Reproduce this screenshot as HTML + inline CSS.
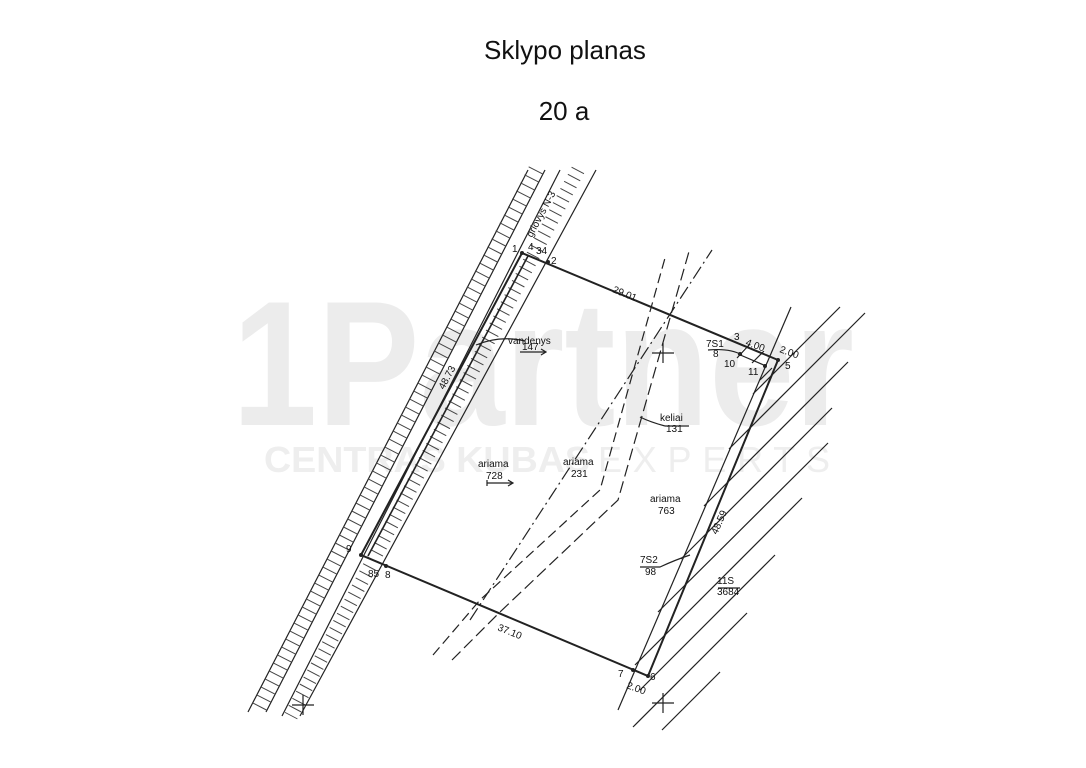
<!DOCTYPE html>
<html><head><meta charset="utf-8"><style>
html,body{margin:0;padding:0;background:#fff;width:1086px;height:768px;overflow:hidden}
svg{display:block}
</style></head><body>
<svg width="1086" height="768" viewBox="0 0 1086 768" xmlns="http://www.w3.org/2000/svg" font-family="Liberation Sans, sans-serif">
<rect width="1086" height="768" fill="#fff"/>
<text x="565" y="59" font-size="26" text-anchor="middle" fill="#111">Sklypo planas</text>
<text x="564" y="120" font-size="26" text-anchor="middle" fill="#111">20 a</text>
<!-- watermark -->
<text x="232" y="425" font-size="178" font-weight="bold" fill="#ececec" textLength="622" lengthAdjust="spacingAndGlyphs">1Partner</text>
<text x="264" y="472" font-size="36" font-weight="bold" fill="#eeeeee" textLength="326" lengthAdjust="spacingAndGlyphs">CENTRAS KUBAS</text>
<text x="598" y="472" font-size="36" fill="#eeeeee" textLength="232" lengthAdjust="spacing">EXPERTS</text>
<g stroke="#222" fill="none" stroke-width="1.2">
<!-- ditch band 1 -->
<line x1="528" y1="170" x2="248" y2="712"/>
<line x1="545" y1="170" x2="266" y2="712"/>
<line x1="536" y1="170" x2="257" y2="712" stroke-width="16" stroke-dasharray="1 8" stroke="#444"/>
<!-- ditch band 2 -->
<line x1="560" y1="170" x2="282" y2="716"/>
<line x1="596" y1="170" x2="300" y2="716"/>
<line x1="578" y1="170" x2="291" y2="716" stroke-width="14" stroke-dasharray="1 7" stroke="#444"/>
<!-- parcel -->
<polyline points="522,253 778,360 648,676 361,555 522,253" stroke-width="2"/>
<line x1="528" y1="256" x2="368" y2="556" stroke-width="1.6"/>
<!-- strip outer line -->
<line x1="618" y1="710" x2="791" y2="307"/>
<!-- parallel hatches -->
<line x1="753" y1="394" x2="840" y2="307"/>
<line x1="729" y1="449" x2="865" y2="313"/>
<line x1="704" y1="506" x2="848" y2="362"/>
<line x1="681" y1="559" x2="832" y2="408"/>
<line x1="658" y1="612" x2="828" y2="443"/>
<line x1="635" y1="665" x2="802" y2="498"/>
<line x1="640" y1="690" x2="775" y2="555"/>
<line x1="633" y1="727" x2="747" y2="613"/>
<line x1="662" y1="730" x2="720" y2="672"/>
<line x1="737" y1="358" x2="749" y2="345"/>
<line x1="752" y1="363" x2="764" y2="351"/>
<line x1="760" y1="380" x2="772" y2="368"/>
<line x1="738" y1="354" x2="766" y2="366"/>
<!-- roads dashed -->
<polyline points="433,655 480,600 600,490 665,258" stroke-dasharray="10 5"/>
<polyline points="452,660 500,612 618,500 690,248" stroke-dasharray="12 5"/>
<line x1="470" y1="620" x2="712" y2="250" stroke-dasharray="14 4 2 4"/>
<!-- crosses -->
<path d="M652,353 h22 M663,343 v20 M652,703 h22 M663,693 v20 M292,705 h22 M303,695 v20"/>
<!-- leaders -->
<path d="M476,345 Q500,335 525,341"/>
<path d="M487,483 h25 M508,480 l5,3 -5,3 M487,480 v6"/>
<path d="M520,352 h25 M541,349 l5,3 -5,3"/>
<path d="M665,426 h24"/><path d="M640,417 Q650,422 665,426"/>
<path d="M640,567 h20 Q675,560 690,555"/>
<path d="M708,350 Q730,348 742,355"/>
<path d="M718,588 h22"/>
</g>
<g fill="#111" font-size="10">
<text x="512" y="252">1</text><text x="528" y="250">4</text><text x="536" y="254">34</text><text x="551" y="264">2</text>
<text x="508" y="344">vandenys</text><text x="522" y="350">147</text>
<text x="478" y="467">ariama</text><text x="486" y="479">728</text>
<text x="563" y="465">ariama</text><text x="571" y="477">231</text>
<text x="660" y="421">keliai</text><text x="666" y="432">131</text>
<text x="650" y="502">ariama</text><text x="658" y="514">763</text>
<text x="640" y="563">7S2</text><text x="645" y="575">98</text>
<text x="717" y="584">11S</text><text x="717" y="595">3684</text>
<text x="706" y="347">7S1</text><text x="713" y="357">8</text>
<text x="734" y="340">3</text><text x="745" y="345" transform="rotate(20 745 345)">4.00</text>
<text x="779" y="352" transform="rotate(20 779 352)">2.00</text>
<text x="724" y="367">10</text><text x="748" y="375">11</text><text x="785" y="369">5</text>
<text x="346" y="552">9</text><text x="385" y="578">8</text><text x="368" y="577">85</text>
<text x="618" y="677">7</text><text x="626" y="688" transform="rotate(20 626 688)">2.00</text><text x="650" y="680">6</text>
<text x="612" y="292" transform="rotate(22 612 292)">29.01</text>
<text x="497" y="630" transform="rotate(22 497 630)">37.10</text>
<text x="444" y="390" transform="rotate(-62 444 390)">48.73</text>
<text x="717" y="535" transform="rotate(-66 717 535)">48.59</text>
<text x="532" y="238" transform="rotate(-62 532 238)">griovys N-3</text>
</g>
<g fill="#222"><circle cx="522" cy="253" r="2"/><circle cx="548" cy="262" r="2"/><circle cx="778" cy="360" r="2"/><circle cx="648" cy="676" r="2"/><circle cx="633" cy="670" r="2"/><circle cx="361" cy="555" r="2"/><circle cx="386" cy="566" r="2"/><circle cx="740" cy="354" r="2"/><circle cx="765" cy="366" r="2"/></g>
</svg>
</body></html>
